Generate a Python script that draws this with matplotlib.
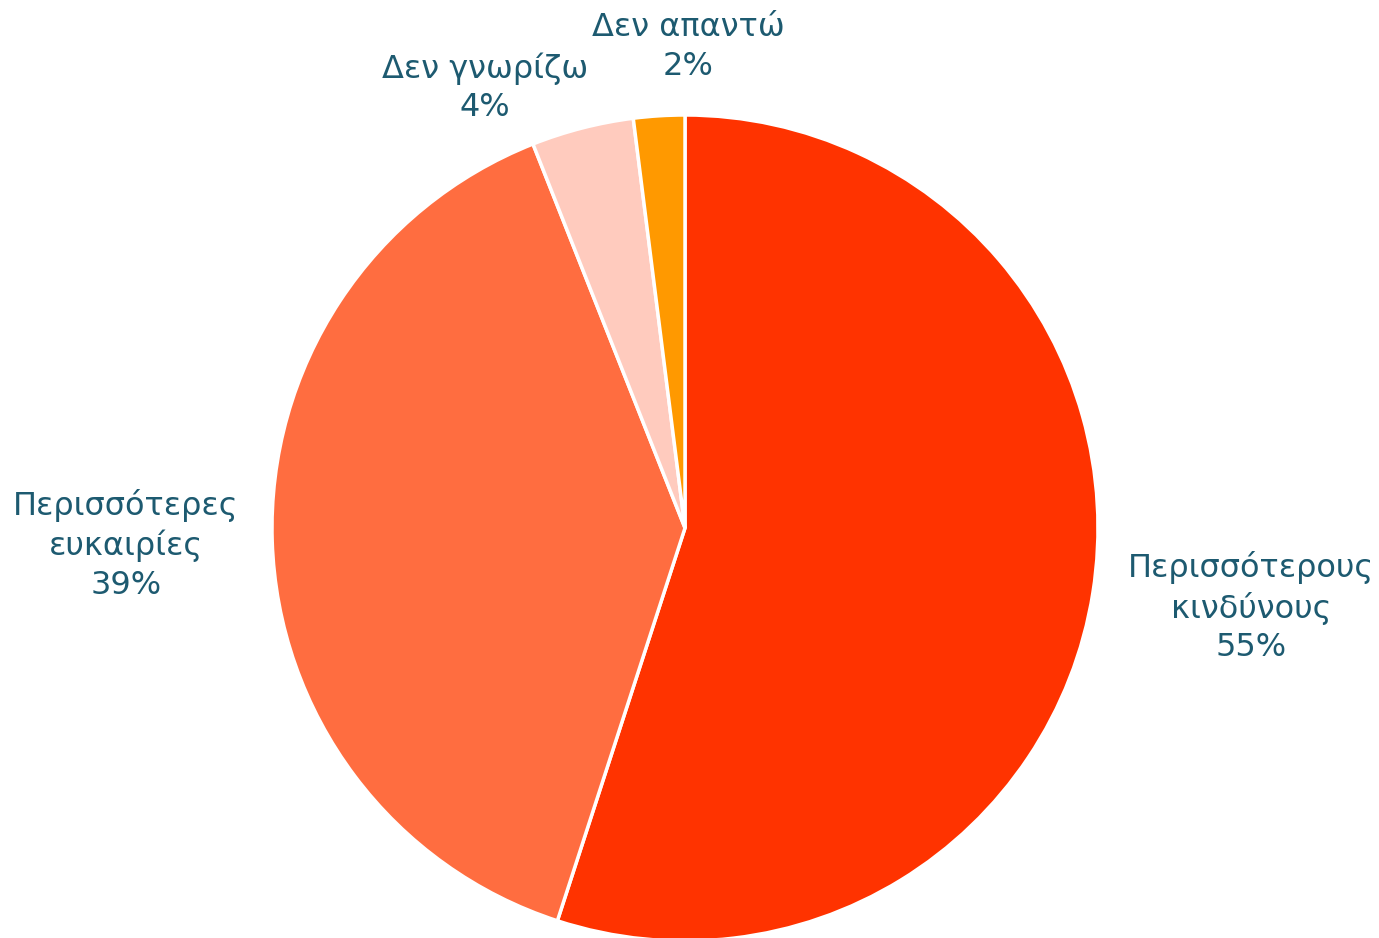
import matplotlib
matplotlib.use("Agg")
from matplotlib import pyplot as plt

# Data
labels = ["Περισσότερους\nκινδύνους", "Περισσότερες\nευκαιρίες", "Δεν γνωρίζω", "Δεν απαντώ"]
values = [55, 39, 4, 2]
colors = ["#FF3300", "#FF6D40", "#FFCBBE", "#FF9900"]

# label centres in pixel coords (x, y from top)
label_pos = [(1251, 607), (126, 545), (485, 88), (688, 47)]

W, H = 1379, 938
fig = plt.figure(figsize=(W / 100, H / 100), dpi=100)
ax = fig.add_axes([0, 0, 1, 1])

ax.pie(values, colors=colors, startangle=90, counterclock=False,
       center=(685, H - 528), radius=413,
       wedgeprops=dict(edgecolor="white", linewidth=2.5))

# pie() resets the limits, so set them afterwards
ax.set_xlim(0, W)
ax.set_ylim(0, H)
ax.set_aspect("equal")
ax.axis("off")

for lab, v, (x, y) in zip(labels, values, label_pos):
    ax.text(x, H - y, f"{lab}\n{v}%", ha="center", va="center",
            fontsize=23, color="#1D5A70", linespacing=1.3,
            family="DejaVu Sans")

fig.savefig("out.png", dpi=100)
